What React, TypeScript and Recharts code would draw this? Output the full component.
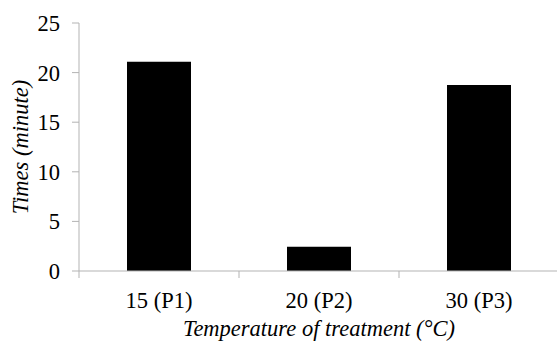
import React from 'react';
import { BarChart, Bar, XAxis, YAxis } from 'recharts';

// Values
const categories = ['15 (P1)', '20 (P2)', '30 (P3)'];
const times = [21.1, 2.45, 18.75];
const yTicks = [0, 5, 10, 15, 20, 25];

const data = categories.map((name, i) => ({ name, time: times[i] }));

const FONT = "'Liberation Serif', 'Times New Roman', serif";
const SIZE = 22.5;
const AXIS = '#b3b3b3';

// Excel-style category ticks: the tick mark sits on the left edge of each band
// eslint-disable-next-line @typescript-eslint/no-explicit-any
const CategoryTick = (props: any) => {
  const { x, y, payload, width, visibleTicksCount } = props;
  const band = width / (visibleTicksCount || categories.length);
  const left = x - band / 2;
  return (
    <g>
      <line x1={left} y1={y - 21} x2={left} y2={y - 14} stroke={AXIS} strokeWidth={1} />
      <text
        x={x}
        y={y}
        dy="0.71em"
        textAnchor="middle"
        fontFamily={FONT}
        fontSize={SIZE}
        fill="#000"
      >
        {payload.value}
      </text>
    </g>
  );
};

const App: React.FC = () => {
  return (
    <div style={{ position: 'fixed', left: 0, top: 0, background: '#fff', fontFamily: FONT }}>
      <BarChart
        width={557}
        height={341}
        data={data}
        margin={{ top: 23, right: -2, bottom: 0, left: 0 }}
        barCategoryGap="30%"
      >
        <XAxis
          dataKey="name"
          height={70}
          stroke={AXIS}
          tickLine={false}
          tickSize={6}
          tickMargin={15}
          tick={<CategoryTick />}
          label={{
            value: 'Temperature of treatment (°C)',
            position: 'insideBottom',
            offset: 5,
            fontFamily: FONT,
            fontSize: SIZE,
            fontStyle: 'italic',
            fill: '#000',
          }}
        />
        <YAxis
          width={79}
          domain={[0, 25]}
          ticks={yTicks}
          stroke={AXIS}
          tickSize={7}
          tickMargin={12}
          tick={{ fontFamily: FONT, fontSize: SIZE, fill: '#000' }}
          label={{
            value: 'Times (minute)',
            angle: -90,
            position: 'insideLeft',
            offset: 20,
            fontFamily: FONT,
            fontSize: SIZE,
            fontStyle: 'italic',
            fill: '#000',
            style: { textAnchor: 'middle' },
          }}
        />
        <Bar dataKey="time" fill="#000" isAnimationActive={false} />
      </BarChart>
    </div>
  );
};

export default App;
